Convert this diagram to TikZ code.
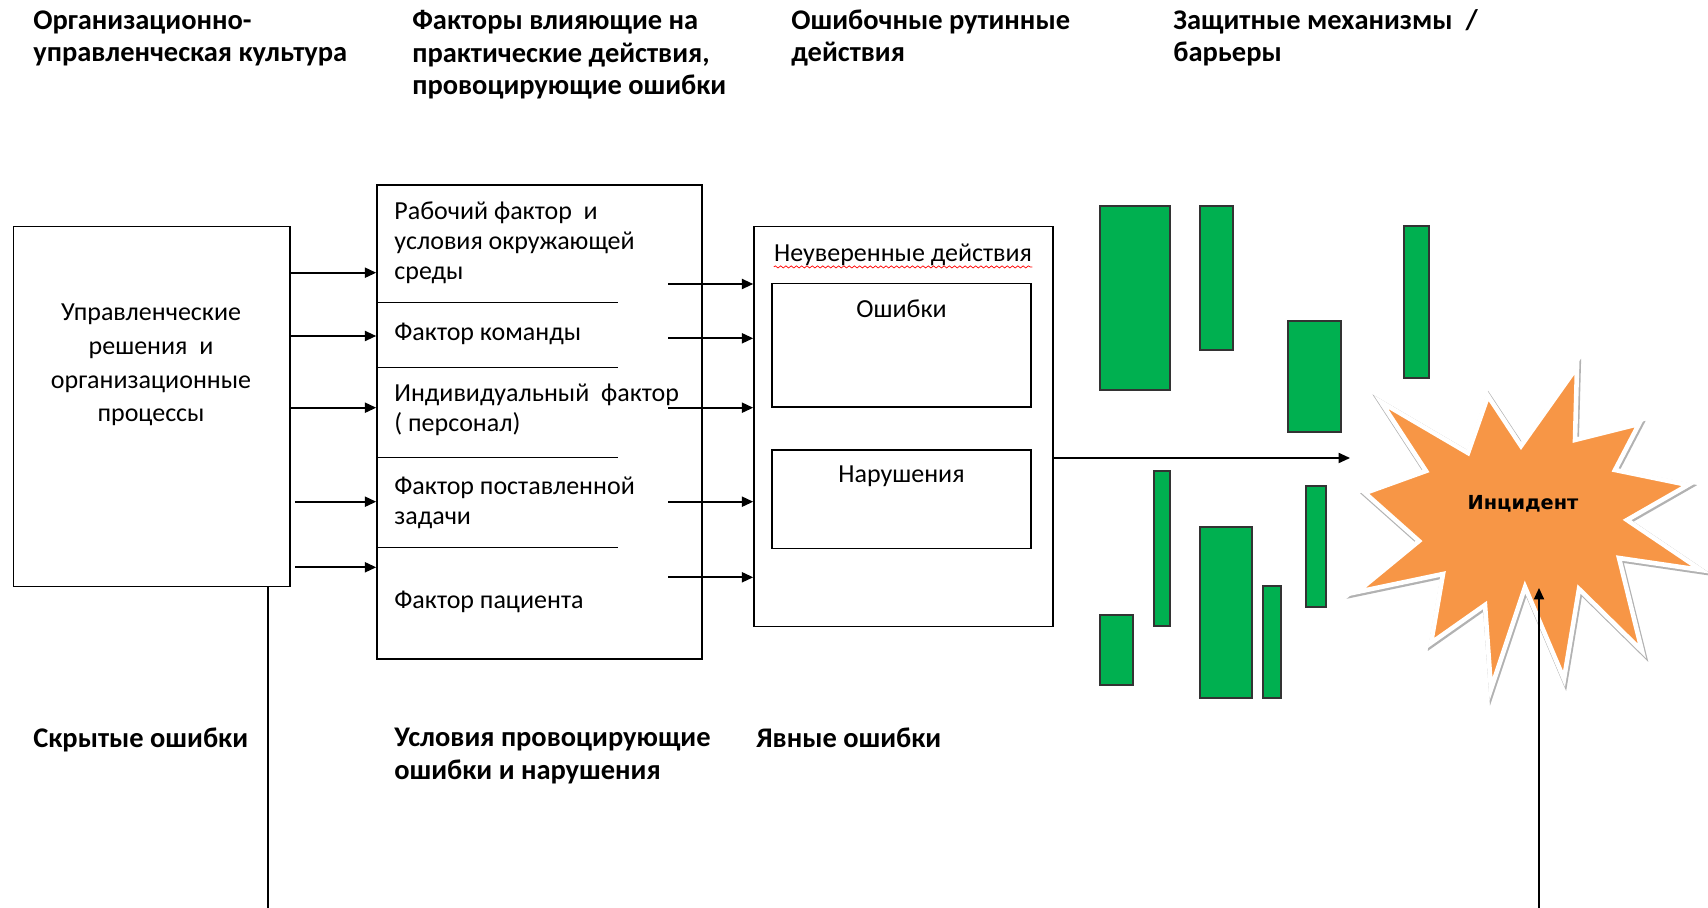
\documentclass[tikz,border=0pt]{standalone}
\usepackage{fontspec}
\setmainfont{Carlito}
\newfontfamily\burstfont{DejaVu Sans}
\usetikzlibrary{positioning,calc,fit,arrows.meta,decorations.pathmorphing}

\definecolor{bargreen}{RGB}{0,176,80}
\definecolor{burstorange}{RGB}{247,150,70}

\begin{document}
\begin{tikzpicture}[x=0.02cm, y=-0.02cm,
    frame/.style={draw, line width=0.9pt, inner sep=0},
    head/.style={anchor=base west, inner sep=0, align=left, font=\fontsize{16.2}{18.5}\selectfont\bfseries},
    txt/.style={anchor=base west, inner sep=0, align=left, font=\fontsize{14.8}{17.2}\selectfont},
    arr/.style={line width=1pt, -{Triangle[length=6.5pt, width=5.8pt]}},
    bar/.style={draw=black!80, line width=0.6pt, fill=bargreen},
    burst/.style={fill=burstorange, draw=white, line width=2.6pt, miter limit=25,
        preaction={draw=black!30, line width=3.4pt, miter limit=25, transform canvas={xshift=0.5pt, yshift=-0.8pt}}}]
    \useasboundingbox (0,0) rectangle (1708,908);

    % headings (base = last line)
    \node[head] (hCulture) at (33,62) {Организационно-\\управленческая культура};
    \node[head] (hFactors) at (412,95) {Факторы влияющие на\\практические действия,\\провоцирующие ошибки};
    \node[head] (hRoutine) at (791,62) {Ошибочные рутинные\\действия};
    \node[head] (hBarriers) at (1173,62) {Защитные механизмы~ /\\барьеры};

    % management
    \node[frame, fit={(13.6,226.7) (290,586.7)}] (mgmt) {};
    \node[txt, anchor=base, align=center, font=\fontsize{14.8}{19.3}\selectfont] (mgmtText) at (151,422)
        {Управленческие\\решения~ и\\организационные\\процессы};

    % factors
    \node[frame, fit={(377,185) (702,659)}] (factors) {};
    \foreach \y in {302.7,367.3,457.3,547.3}
        \draw[line width=0.9pt] (factors.west |- 0,\y) -- (618,\y);
    \node[txt] (fWork) at (394,279.7) {Рабочий фактор~ и\\условия окружающей\\среды};
    \node[txt] (fTeam) at (394,341) {Фактор команды};
    \node[txt] (fPerson) at (394,431.3) {Индивидуальный~ фактор\\( персонал)};
    \node[txt] (fTask) at (394,524.3) {Фактор поставленной\\задачи};
    \node[txt] (fPatient) at (394,608.7) {Фактор пациента};

    \foreach \y/\s in {272.7/0,336/0,407.7/0,501.7/4,567.3/4}
        \draw[arr] ($(mgmt.east |- 0,\y)+(\s,0)$) -- (factors.west |- 0,\y);

    % unsafe acts
    \node[frame, fit={(754,226.5) (1053,626.4)}] (acts) {};
    \node[txt, anchor=base] (unsure) at (903,262) {Неуверенные действия};
    \draw[red, line width=0.4pt, decorate, decoration={snake, amplitude=0.6pt, segment length=3pt}]
        ([yshift=-2.8pt]unsure.base west) -- ([yshift=-2.8pt]unsure.base east);
    \node[frame, fit={(772,283.6) (1031,407)}] (errBox) {};
    \node[txt, anchor=base] (errText) at (errBox.north |- 0,318) {Ошибки};
    \node[frame, fit={(772,450) (1031,548.6)}] (violBox) {};
    \node[txt, anchor=base] (violText) at (violBox.north |- 0,483) {Нарушения};

    \foreach \y [count=\i] in {284,338.3,407.7,501.7,577.3} {
        \coordinate (fOut\i) at (668,\y);
        \draw[arr] (fOut\i) -- (acts.west |- fOut\i);
    }

    % barriers
    \foreach \xa/\ya/\xb/\yb in {1100/206/1170/390, 1200/206/1233/350, 1288/321/1341/432,
        1404/226/1429/378, 1154/471/1170/626, 1100/615/1133/685, 1200/527/1252/698,
        1263/586/1281/698, 1306/486/1326/607}
        \draw[bar] (\xa,\ya) rectangle (\xb,\yb);

    % incident
    \path[burst] (1365,493) -- (1426,471) -- (1381,402) -- (1468,453) -- (1488,396) -- (1521,446)
        -- (1577,367) -- (1575,440) -- (1639,424) -- (1615,470) -- (1688,485) -- (1627,520)
        -- (1701,570) -- (1619,558) -- (1642,651) -- (1579,589) -- (1564,679) -- (1525,587)
        -- (1491,689) -- (1485,605) -- (1431,643) -- (1443,574) -- (1357,592) -- (1419,541) -- cycle;
    \node[anchor=base, inner sep=0, font=\burstfont\bfseries\fontsize{11}{13}\selectfont] (incident) at (1523,510) {Инцидент};

    \coordinate (burstIn) at (1350,458);
    \draw[arr, line width=0.8pt] (acts.east |- burstIn) -- (burstIn);
    \coordinate (burstUp) at (1539,588);
    \coordinate (incBottom) at (1539,908);
    \draw[arr, line width=0.8pt] (incBottom) -- (burstUp);
    \coordinate (latentEnd) at (268,908);
    \draw[line width=0.8pt] (mgmt.south -| latentEnd) -- (latentEnd);

    % bottom labels
    \node[head] (hLatent) at (33,747) {Скрытые ошибки};
    \node[head] (hCond) at (394,779.5) {Условия провоцирующие\\ошибки и нарушения};
    \node[head] (hActive) at (756,747) {Явные ошибки};
\end{tikzpicture}
\end{document}
